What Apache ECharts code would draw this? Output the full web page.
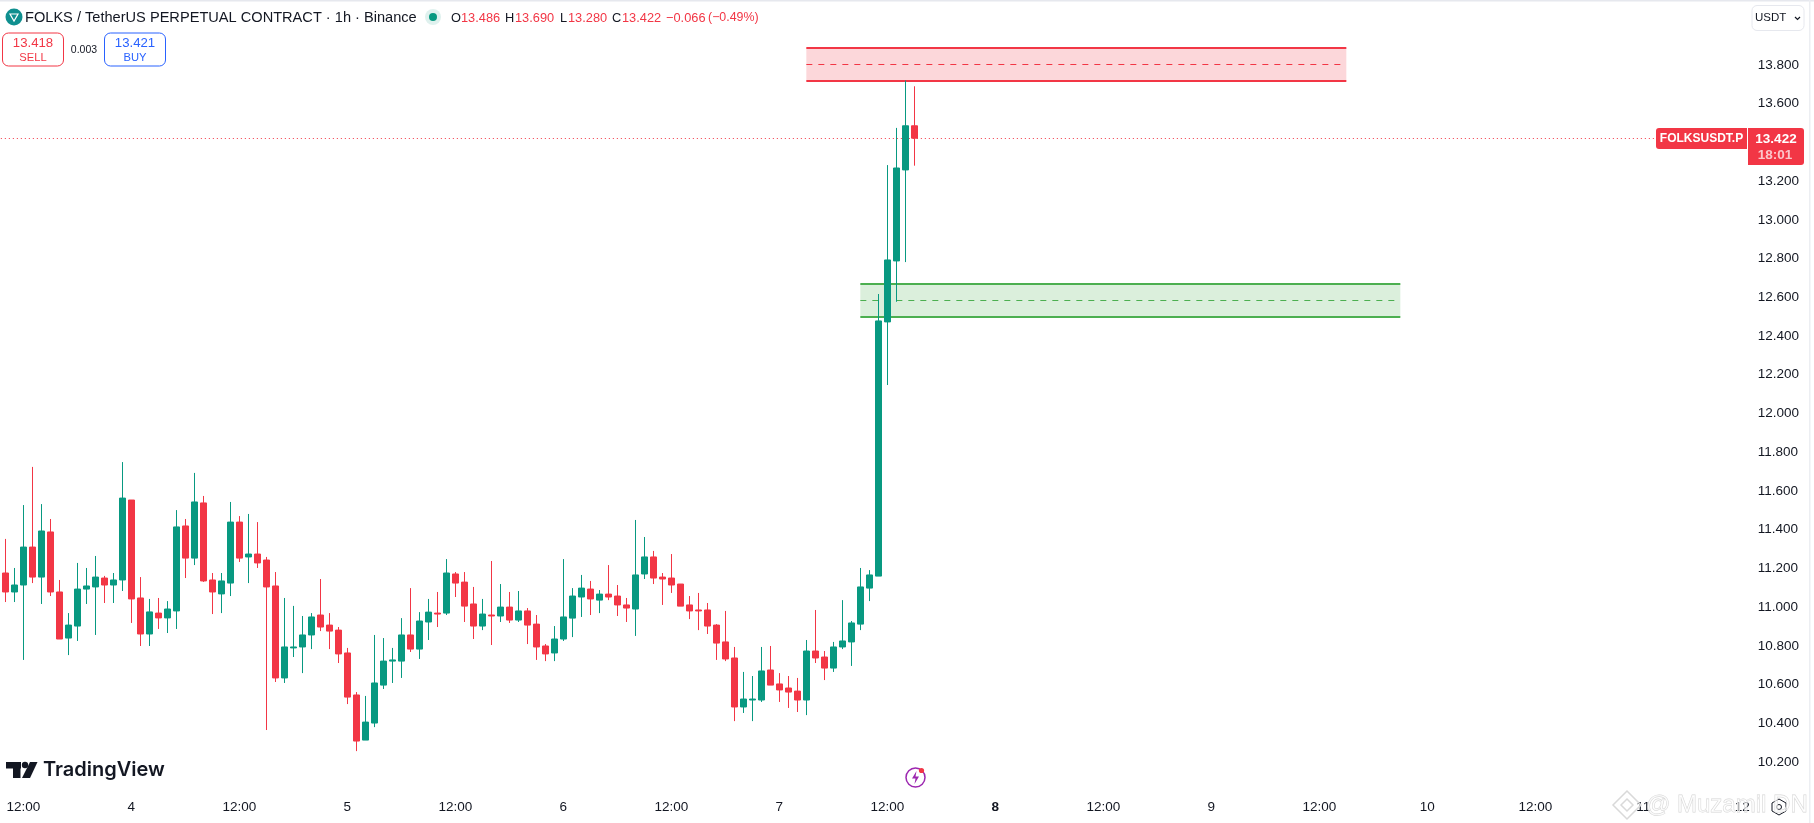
<!DOCTYPE html>
<html>
<head>
<meta charset="utf-8">
<title>FOLKSUSDT.P</title>
<script src="https://cdn.jsdelivr.net/npm/echarts@6/dist/echarts.min.js"></script>
<style>html,body{margin:0;padding:0;background:#fff}#c{width:1814px;height:823px}</style>
</head>
<body>
<div id="c"></div>
<script>
const opens = [11.176,11.078,11.114,11.310,11.155,11.388,11.078,10.840,10.902,11.093,
11.104,11.150,11.114,11.140,11.553,11.047,10.861,10.969,10.944,10.980,
11.419,11.253,11.538,11.140,11.068,11.124,11.439,11.259,11.274,11.243,
11.109,10.634,10.789,10.794,10.856,10.959,10.907,10.881,10.763,10.546,
10.313,10.401,10.597,10.721,10.721,10.856,10.783,10.923,10.969,10.969,
11.171,11.129,11.016,10.902,10.959,10.954,11.000,10.933,10.980,10.912,
10.799,10.763,10.835,10.943,11.052,11.093,11.036,11.067,11.057,11.011,
10.990,11.171,11.259,11.155,11.150,11.119,11.011,10.985,10.985,10.907,
10.820,10.737,10.484,10.520,10.520,10.675,10.603,10.582,10.566,10.520,
10.773,10.742,10.685,10.794,10.820,10.912,11.098,11.160,12.473,12.788,
13.258,13.486];
const closes = [11.078,11.114,11.310,11.155,11.393,11.078,10.835,10.907,11.093,11.109,
11.155,11.114,11.140,11.563,11.042,10.861,10.975,10.944,10.990,11.414,
11.253,11.543,11.135,11.078,11.135,11.439,11.253,11.274,11.228,11.104,
10.634,10.794,10.794,10.856,10.949,10.897,10.876,10.758,10.535,10.308,
10.406,10.608,10.721,10.727,10.856,10.783,10.928,10.974,10.964,11.176,
11.124,11.005,10.902,10.964,10.954,11.000,10.933,10.980,10.907,10.794,
10.758,10.835,10.949,11.057,11.098,11.042,11.067,11.052,11.011,10.995,
11.166,11.259,11.150,11.145,11.114,11.005,10.980,10.980,10.902,10.814,
10.732,10.484,10.525,10.525,10.670,10.597,10.572,10.561,10.520,10.773,
10.737,10.685,10.794,10.825,10.918,11.104,11.166,12.478,12.793,13.268,
13.486,13.422];
const lows = [11.026,11.026,10.727,11.124,11.016,11.057,10.835,10.752,10.825,11.016,
10.856,11.021,11.021,11.083,10.918,10.799,10.799,10.887,10.866,10.887,
11.150,11.217,11.130,10.964,10.969,11.057,11.233,11.124,11.202,10.365,
10.613,10.608,10.742,10.659,10.783,10.876,10.783,10.711,10.499,10.256,
10.313,10.380,10.577,10.608,10.634,10.768,10.732,10.830,10.897,10.959,
11.052,10.923,10.835,10.881,10.804,10.923,10.918,10.923,10.809,10.727,
10.721,10.721,10.825,10.845,10.949,10.959,10.969,11.036,10.954,10.923,
10.851,11.145,11.119,11.011,11.073,11.005,10.938,10.881,10.861,10.727,
10.721,10.411,10.453,10.411,10.510,10.597,10.510,10.479,10.458,10.442,
10.711,10.623,10.665,10.783,10.696,10.881,11.031,11.160,12.147,12.577,
12.782,13.280];
const highs = [11.352,11.202,11.527,11.724,11.532,11.455,11.140,10.969,11.228,11.202,
11.264,11.161,11.176,11.749,11.553,11.155,11.042,11.047,11.031,11.501,
11.455,11.693,11.574,11.176,11.176,11.543,11.470,11.481,11.439,11.259,
11.181,11.047,11.006,10.954,10.969,11.145,10.969,10.897,10.789,10.561,
10.541,10.856,10.840,10.789,10.943,11.098,10.974,11.042,11.078,11.248,
11.181,11.181,11.104,11.042,11.238,11.119,11.078,11.083,10.995,10.959,
10.809,10.902,11.248,11.098,11.166,11.135,11.088,11.217,11.114,11.047,
11.450,11.362,11.290,11.176,11.274,11.119,11.057,11.073,11.021,10.912,
10.980,10.794,10.665,10.644,10.794,10.799,10.659,10.644,10.634,10.830,
10.985,10.773,10.820,11.036,10.928,11.202,11.191,12.617,13.283,13.475,
13.720,13.690];

// hourly slots on the time axis: the chart keeps empty space right of the last candle
const slotCount = 194;
const tickSlots = [2,14,26,38,50,62,74,86,98,110,122,134,146,158,170,182,193];
const tickTexts = ['12:00','4','12:00','5','12:00','6','12:00','7','12:00','8','12:00','9','12:00','10','12:00','11','12'];
const priceTicks = [13.8,13.6,13.4,13.2,13,12.8,12.6,12.4,12.2,12,11.8,11.6,11.4,11.2,11,10.8,10.6,10.4,10.2];
const lastPrice = 13.422;

// zones: [first slot, last slot, top price, middle price, bottom price]
const redZone = [89,149,13.888,13.802,13.717];
const greenZone = [95,155,12.669,12.584,12.499];

const RED = '#F23645', GREEN = '#089981', INK = '#131722', FONT = '"Liberation Sans", Arial, sans-serif';
const categories = [];
for (let i = 0; i < slotCount; i++) categories.push('slot' + i);
const candles = opens.map((o, i) => [o, closes[i], lows[i], highs[i]]);
const labelAt = {};
tickSlots.forEach((s, i) => { labelAt[s] = tickTexts[i]; });

function zoneArea(z, fill) {
  return [{ xAxis: z[0], yAxis: z[2], itemStyle: { color: fill } }, { xAxis: z[1], yAxis: z[4] }];
}
function zoneLine(z, p, color, type, width) {
  return [{ xAxis: z[0], yAxis: p, lineStyle: { color: color, type: type, width: width } }, { xAxis: z[1], yAxis: p }];
}
function text(x, y, s, fill, size, extra) {
  return { type: 'text', x: x, y: y, silent: true, z: 50,
    style: Object.assign({ text: s, fill: fill, font: size + 'px ' + FONT, verticalAlign: 'middle', align: 'left' }, extra || {}) };
}
function rrect(x, y, w, h, r, fill, stroke) {
  return { type: 'rect', silent: true, z: 49, shape: { x: x, y: y, width: w, height: h, r: r },
    style: { fill: fill, stroke: stroke || null, lineWidth: 1 } };
}

const chart = echarts.init(document.getElementById('c'), null, { renderer: 'canvas' });
chart.setOption({
  animation: false,
  backgroundColor: '#ffffff',
  grid: { left: 0.83, right: 67.17, top: 1.112, bottom: 32, containLabel: false },
  xAxis: {
    type: 'category', data: categories, boundaryGap: true,
    axisLine: { show: false }, axisTick: { show: false }, splitLine: { show: false },
    axisLabel: {
      interval: 0, margin: 9, fontFamily: FONT, fontSize: 13.5, color: INK,
      formatter: (v, i) => labelAt[i] === undefined ? '' : (labelAt[i] === '8' ? '{b|8}' : labelAt[i]),
      rich: { b: { fontWeight: 'bold', fontFamily: FONT, fontSize: 13.5, color: INK } }
    }
  },
  yAxis: {
    type: 'value', position: 'right', min: 10.05, max: 14.13, scale: true,
    axisLine: { show: false }, axisTick: { show: false }, splitLine: { show: false },
    axisLabel: { customValues: priceTicks, margin: 11, padding: [2, 0, 0, 0], fontFamily: FONT, fontSize: 13.5, color: INK,
      formatter: v => v.toFixed(3) }
  },
  series: [
    {
      type: 'line', data: [], z: 1, silent: true,
      markArea: { silent: true, z: 1, data: [zoneArea(redZone, 'rgba(242,54,69,0.2)'), zoneArea(greenZone, 'rgba(76,175,80,0.2)')] },
      markLine: {
        silent: true, symbol: 'none', z: 2, label: { show: false }, animation: false,
        data: [
          zoneLine(redZone, redZone[2], RED, 'solid', 2),
          zoneLine(redZone, redZone[3], RED, [6, 6], 1),
          zoneLine(redZone, redZone[4], RED, 'solid', 2),
          zoneLine(greenZone, greenZone[2], '#4CAF50', 'solid', 2),
          zoneLine(greenZone, greenZone[3], '#4CAF50', [6, 6], 1),
          zoneLine(greenZone, greenZone[4], '#4CAF50', 'solid', 2),
          { yAxis: lastPrice, lineStyle: { color: RED, type: [1, 3], width: 1 } }
        ]
      }
    },
    {
      type: 'candlestick', data: candles, z: 5, barWidth: 6,
      itemStyle: { color: GREEN, color0: RED, borderColor: GREEN, borderColor0: RED, borderWidth: 1 }
    }
  ],
  graphic: { elements: [
    { type: 'rect', silent: true, z: 60, shape: { x: 0, y: 0, width: 1814, height: 1.5 }, style: { fill: '#e6e8ee' } },
    { type: 'rect', silent: true, z: 60, shape: { x: 1809, y: 0, width: 1.5, height: 823 }, style: { fill: '#eceef2' } },
    // header
    { type: 'circle', silent: true, z: 49, shape: { cx: 14, cy: 17, r: 8.5 }, style: { fill: '#0f8f8f' } },
    { type: 'polygon', silent: true, z: 50, shape: { points: [[10, 14], [18, 14], [14, 21]] }, style: { fill: 'none', stroke: '#fff', lineWidth: 1.2 } },
    text(25, 18, 'FOLKS / TetherUS PERPETUAL CONTRACT · 1h · Binance', INK, 14.6),
    { type: 'circle', silent: true, z: 49, shape: { cx: 433, cy: 17, r: 8 }, style: { fill: '#dff1ee' } },
    { type: 'circle', silent: true, z: 50, shape: { cx: 433, cy: 17, r: 4 }, style: { fill: GREEN } },
    text(451, 18, 'O', INK, 12.8), text(461, 18, '13.486', RED, 12.8),
    text(505, 18, 'H', INK, 12.8), text(515, 18, '13.690', RED, 12.8),
    text(560, 18, 'L', INK, 12.8), text(568, 18, '13.280', RED, 12.8),
    text(612, 18, 'C', INK, 12.8), text(622, 18, '13.422', RED, 12.8),
    text(666, 18, '−0.066', RED, 12.8), text(708, 18, '(−0.49%)', RED, 12.4),
    // sell / buy
    rrect(2.5, 33, 61, 33, 6, '#fff', RED),
    text(33, 43, '13.418', RED, 13.2, { align: 'center' }), text(33, 57.5, 'SELL', RED, 11.2, { align: 'center' }),
    text(84, 50, '0.003', INK, 10.5, { align: 'center' }),
    rrect(104.5, 33, 61, 33, 6, '#fff', '#2962FF'),
    text(135, 43, '13.421', '#2962FF', 13.2, { align: 'center' }), text(135, 57.5, 'BUY', '#2962FF', 11.2, { align: 'center' }),
    // unit button
    rrect(1752, 5.5, 52, 25, 5, '#fff', '#e6e8ee'),
    text(1755, 18, 'USDT', INK, 11.5),
    { type: 'polyline', silent: true, z: 50, shape: { points: [[1795, 17], [1797.5, 19.5], [1800, 17]] }, style: { fill: 'none', stroke: INK, lineWidth: 1.2 } },
    // last price tags
    rrect(1656, 128, 91, 21, [3, 0, 0, 3], RED),
    text(1701.5, 139, 'FOLKSUSDT.P', '#fff', 12, { align: 'center', font: 'bold 12px ' + FONT }),
    rrect(1748, 128, 56, 37, [0, 3, 3, 0], RED),
    text(1776, 139.5, '13.422', '#fff', 13.5, { align: 'center', font: 'bold 13.5px ' + FONT }),
    text(1775, 155, '18:01', '#fbc5ca', 13.5, { align: 'center', font: 'bold 13.5px ' + FONT }),
    // TradingView mark
    { type: 'rect', silent: true, z: 50, shape: { x: 6, y: 762, width: 15, height: 6.5 }, style: { fill: INK } },
    { type: 'rect', silent: true, z: 50, shape: { x: 13, y: 762, width: 7.5, height: 16 }, style: { fill: INK } },
    { type: 'circle', silent: true, z: 50, shape: { cx: 25, cy: 765, r: 3.2 }, style: { fill: INK } },
    { type: 'polygon', silent: true, z: 50, shape: { points: [[30, 762], [37.5, 762], [30, 778], [22, 778]] }, style: { fill: INK } },
    text(43, 770, 'TradingView', INK, 20, { font: '600 20px Inter, ' + FONT }),
    // flash icon
    { type: 'circle', silent: true, z: 50, shape: { cx: 915.5, cy: 777.5, r: 9.5 }, style: { fill: 'none', stroke: '#9C27B0', lineWidth: 1.5 } },
    { type: 'polygon', silent: true, z: 51, shape: { points: [[916.5, 771], [912, 778.5], [915.5, 778.5], [914.5, 784], [919, 776.5], [915.5, 776.5]] }, style: { fill: '#9C27B0' } },
    { type: 'circle', silent: true, z: 52, shape: { cx: 921.5, cy: 770.5, r: 2.6 }, style: { fill: RED } },
    // settings hexagon
    { type: 'polygon', silent: true, z: 50, shape: { points: [[1779, 799], [1786, 803], [1786, 811], [1779, 815], [1772, 811], [1772, 803]] }, style: { fill: 'none', stroke: INK, lineWidth: 1 } },
    { type: 'circle', silent: true, z: 50, shape: { cx: 1779, cy: 807, r: 2.5 }, style: { fill: 'none', stroke: INK, lineWidth: 1 } },
    // watermark
    { type: 'polygon', silent: true, z: 55, shape: { points: [[1627, 791], [1641, 805], [1627, 819], [1613, 805]] }, style: { fill: 'none', stroke: '#d9d9d9', lineWidth: 1.5 } },
    { type: 'polygon', silent: true, z: 55, shape: { points: [[1627, 799], [1633, 805], [1627, 811], [1621, 805]] }, style: { fill: 'none', stroke: '#d9d9d9', lineWidth: 1.5 } },
    { type: 'text', silent: true, z: 55, x: 1646, y: 805, style: { text: '@ Muzamil DN', font: '24px ' + FONT, fill: 'rgba(255,255,255,0.6)', stroke: '#d4d4d4', lineWidth: 0.8, verticalAlign: 'middle' } }
  ] }
});
</script>
</body>
</html>
